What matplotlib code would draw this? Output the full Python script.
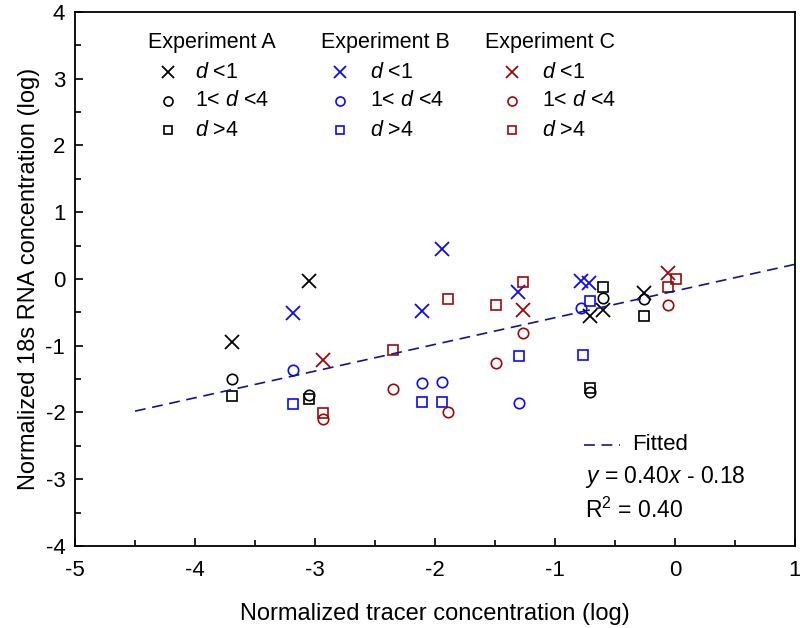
import matplotlib
matplotlib.use("Agg")
import matplotlib.pyplot as plt
import numpy as np

plt.rcParams['font.family'] = ['Liberation Sans', 'DejaVu Sans']
plt.rcParams['mathtext.fontset'] = 'custom'
plt.rcParams['mathtext.rm'] = 'Liberation Sans'
plt.rcParams['mathtext.it'] = 'Liberation Sans:italic'
plt.rcParams['axes.unicode_minus'] = False

# ---- data (log tracer, log 18s RNA) ----
A_x_lt1 = [-3.69, -3.05, -0.71, -0.60, -0.26]
A_y_lt1 = [-0.94, -0.03, -0.56, -0.46, -0.21]
A_x_1to4 = [-3.69, -3.05, -0.71, -0.60, -0.26]
A_y_1to4 = [-1.50, -1.74, -1.69, -0.29, -0.30]
A_x_gt4 = [-3.69, -3.05, -0.71, -0.60, -0.26]
A_y_gt4 = [-1.75, -1.80, -1.64, -0.12, -0.55]

B_x_lt1 = [-3.18, -2.11, -1.94, -1.31, -0.78, -0.72]
B_y_lt1 = [-0.51, -0.48, 0.45, -0.19, -0.03, -0.06]
B_x_1to4 = [-3.18, -2.11, -1.94, -1.30, -0.78]
B_y_1to4 = [-1.36, -1.56, -1.54, -1.86, -0.43]
B_x_gt4 = [-3.18, -2.11, -1.94, -1.30, -0.77, -0.71]
B_y_gt4 = [-1.87, -1.85, -1.84, -1.15, -1.14, -0.33]

C_x_lt1 = [-2.93, -1.27, -0.06]
C_y_lt1 = [-1.22, -0.46, 0.09]
C_x_1to4 = [-2.93, -2.35, -1.89, -1.49, -1.27, -0.06]
C_y_1to4 = [-2.10, -1.65, -2.00, -1.26, -0.81, -0.39]
C_x_gt4 = [-2.93, -2.35, -1.89, -1.49, -1.27, -0.06, 0.01]
C_y_gt4 = [-2.01, -1.06, -0.30, -0.39, -0.04, -0.12, 0.00]

fit_slope = 0.40
fit_intercept = -0.18
fit_x_range = [-4.5, 1.0]

xticks = [-5, -4, -3, -2, -1, 0, 1]
yticks = [-4, -3, -2, -1, 0, 1, 2, 3, 4]

colors = {'A': 'black', 'B': '#0a0aff', 'C': '#9b0a0a'}
fit_color = '#15158a'
experiments = [
    ('A', A_x_lt1, A_y_lt1, A_x_1to4, A_y_1to4, A_x_gt4, A_y_gt4),
    ('B', B_x_lt1, B_y_lt1, B_x_1to4, B_y_1to4, B_x_gt4, B_y_gt4),
    ('C', C_x_lt1, C_y_lt1, C_x_1to4, C_y_1to4, C_x_gt4, C_y_gt4),
]

fig = plt.figure(figsize=(8.0, 6.28), dpi=100)
ax = fig.add_axes([0.09375, 0.1306, 0.9, 0.8503])

mk = dict(x=dict(marker='x', ms=10, mew=1.3),
          o=dict(marker='o', ms=7.5, mew=1.2, mfc='none'),
          s=dict(marker='s', ms=6.5, mew=1.2, mfc='none'))

for name, xl, yl, xm, ym, xg, yg in experiments:
    c = colors[name]
    ax.plot(xl, yl, ls='none', color=c, **mk['x'])
    ax.plot(xm, ym, ls='none', color=c, **mk['o'])
    ax.plot(xg, yg, ls='none', color=c, **mk['s'])

fx = np.array(fit_x_range)
ax.plot(fx, fit_slope * fx + fit_intercept, ls=(0, (6.5, 4)), color=fit_color, lw=1.2)

ax.set_xlim(-5, 1)
ax.set_ylim(-4, 4)
ax.set_xticks(xticks)
ax.set_yticks(yticks)
ax.set_xticks(np.arange(-4.5, 1, 1.0), minor=True)
ax.set_yticks(np.arange(-3.5, 4, 1.0), minor=True)
ax.tick_params(which='both', direction='in', top=False, right=False, labelsize=16, width=1.2)
ax.tick_params(axis='x', which='both', pad=10)
ax.tick_params(axis='y', which='both', pad=7)
ax.tick_params(which='major', length=6)
ax.tick_params(which='minor', length=4)
for s in ax.spines.values():
    s.set_linewidth(1.3)

ax.set_xlabel('Normalized tracer concentration (log)', fontsize=17, labelpad=16)
ax.set_ylabel('Normalized 18s RNA concentration (log)', fontsize=17, labelpad=4)

# custom legend
hdr_x = {'A': -4.39, 'B': -2.95, 'C': -1.58}
mk_x = {'A': -4.225, 'B': -2.79, 'C': -1.36}
tx_x = {'A': -4.0, 'B': -2.54, 'C': -1.11}
row_y = [3.10, 2.67, 2.23]
labels = [r'$d$ <1', r'1< $d$ <4', r'$d$ >4']
mkeys = ['x', 'o', 's']
leg_ms = {'x': 9, 'o': 6.5, 's': 6}
for name in ['A', 'B', 'C']:
    c = colors[name]
    ax.text(hdr_x[name], 3.54, 'Experiment ' + name, fontsize=15.5, va='center', ha='left')
    for ry, lab, k in zip(row_y, labels, mkeys):
        kw = dict(mk[k])
        kw['ms'] = leg_ms[k]
        ax.plot([mk_x[name]], [ry], ls='none', color=c, **kw)
        ax.text(tx_x[name], ry, lab, fontsize=15.5, va='center', ha='left')

ax.plot([-0.76, -0.46], [-2.48, -2.48], ls=(0, (6.5, 4)), color=fit_color, lw=1.2)
ax.text(-0.36, -2.48, 'Fitted', fontsize=16, va='center', ha='left')
ax.text(-0.75, -2.97, r'$y$ = 0.40$x$ - 0.18', fontsize=16.5, va='center', ha='left')
ax.text(-0.75, -3.46, r'R$^2$ = 0.40', fontsize=16.5, va='center', ha='left')

fig.savefig('out.png', dpi=100)
